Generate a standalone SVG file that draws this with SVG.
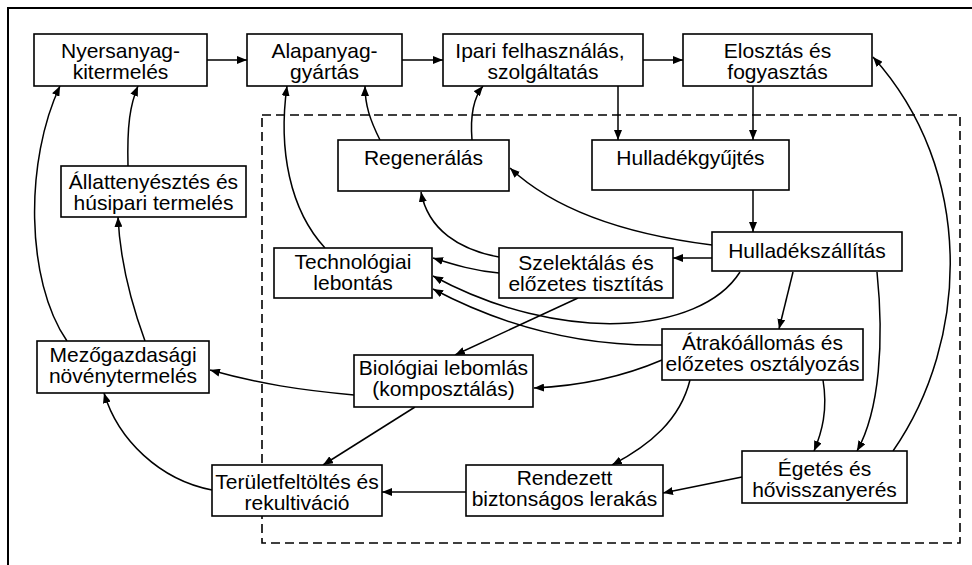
<svg xmlns="http://www.w3.org/2000/svg" width="972" height="565" viewBox="0 0 972 565">
<style>
.box{fill:#fff;stroke:#000;stroke-width:1.6}
text{font-family:"Liberation Sans",Arial,sans-serif;font-size:21px;fill:#000;text-anchor:middle}
.c{fill:none;stroke:#000;stroke-width:1.5}
.frame{fill:none;stroke:#000;stroke-width:2}
.dash{fill:none;stroke:#000;stroke-width:1.6;stroke-dasharray:9 5}
</style>
<defs>
<marker id="a" viewBox="0 0 10 8" refX="10" refY="4" markerWidth="10" markerHeight="8" markerUnits="userSpaceOnUse" orient="auto">
<path d="M0,0 L10,4 L0,8 Z" fill="#000"/>
</marker>
</defs>
<rect width="972" height="565" fill="#fff"/>
<path class="frame" d="M8,565 L8,8 L972,8"/>
<rect class="dash" x="262" y="115" width="698" height="428"/>

<g id="connectors">
<path class="c" marker-end="url(#a)" d="M207,60 L247,60"/>
<path class="c" marker-end="url(#a)" d="M402,60 L443,60"/>
<path class="c" marker-end="url(#a)" d="M643,60 L683,60"/>
<path class="c" marker-end="url(#a)" d="M618,86 L618,140"/>
<path class="c" marker-end="url(#a)" d="M753,86 L753,140"/>
<path class="c" marker-end="url(#a)" d="M753,190 L753,232"/>
<path class="c" marker-end="url(#a)" d="M712,258 L673,258"/>
<path class="c" marker-end="url(#a)" d="M712,245 C640,236 560,215 510,168"/>
<path class="c" marker-end="url(#a)" d="M499,257 C460,250 428,230 421,192"/>
<path class="c" marker-end="url(#a)" d="M499,273 C475,271 455,265 433,258"/>
<path class="c" marker-end="url(#a)" d="M740,272 C700,335 560,345 433,276"/>
<path class="c" marker-end="url(#a)" d="M662,345 C600,346 520,335 433,289"/>
<path class="c" marker-end="url(#a)" d="M578,298 L455,355"/>
<path class="c" marker-end="url(#a)" d="M662,360 C620,378 580,386 534,388"/>
<path class="c" marker-end="url(#a)" d="M793,272 L779,329"/>
<path class="c" marker-end="url(#a)" d="M877,272 C884,340 880,410 857,451"/>
<path class="c" marker-end="url(#a)" d="M823,380 C828,410 822,432 814,451"/>
<path class="c" marker-end="url(#a)" d="M893,451 C970,340 975,170 873,57"/>
<path class="c" marker-end="url(#a)" d="M690,380 C680,420 650,445 612,465"/>
<path class="c" marker-end="url(#a)" d="M742,477 L663,493"/>
<path class="c" marker-end="url(#a)" d="M466,492 L382,492"/>
<path class="c" marker-end="url(#a)" d="M415,407 L323,465"/>
<path class="c" marker-end="url(#a)" d="M354,395 C300,390 260,384 210,370"/>
<path class="c" marker-end="url(#a)" d="M212,490 C160,480 118,440 104,393"/>
<path class="c" marker-end="url(#a)" d="M67,341 C25,280 25,160 60,86"/>
<path class="c" marker-end="url(#a)" d="M145,341 C130,300 120,260 118,217"/>
<path class="c" marker-end="url(#a)" d="M128,166 C127,125 130,105 138,86"/>
<path class="c" marker-end="url(#a)" d="M325,248 C290,210 278,150 287,86"/>
<path class="c" marker-end="url(#a)" d="M380,140 C370,120 365,105 365,86"/>
<path class="c" marker-end="url(#a)" d="M472,140 C470,115 474,97 483,86"/>
</g>

<g id="n1"><rect class="box" x="34" y="34" width="173" height="52"/><text x="120.5" y="58">Nyersanyag-</text><text x="120.5" y="79">kitermelés</text></g>
<g id="n2"><rect class="box" x="247" y="34" width="155" height="52"/><text x="324.5" y="58">Alapanyag-</text><text x="324.5" y="79">gyártás</text></g>
<g id="n3"><rect class="box" x="443" y="34" width="200" height="52"/><text x="540" y="58">Ipari felhasználás,</text><text x="543" y="79">szolgáltatás</text></g>
<g id="n4"><rect class="box" x="683" y="34" width="189" height="52"/><text x="777.5" y="58">Elosztás és</text><text x="777.5" y="79">fogyasztás</text></g>
<g id="n5"><rect class="box" x="61" y="166" width="185" height="51"/><text x="153.5" y="189">Állattenyésztés és</text><text x="153.5" y="210">húsipari termelés</text></g>
<g id="n6"><rect class="box" x="338" y="140" width="171" height="51"/><text x="423.5" y="165">Regenerálás</text></g>
<g id="n7"><rect class="box" x="592" y="140" width="197" height="50"/><text x="690.5" y="165">Hulladékgyűjtés</text></g>
<g id="n8"><rect class="box" x="712" y="232" width="190" height="39"/><text x="807" y="258">Hulladékszállítás</text></g>
<g id="n9"><rect class="box" x="499" y="248" width="174" height="50"/><text x="586" y="270">Szelektálás és</text><text x="586" y="291">előzetes tisztítás</text></g>
<g id="n10"><rect class="box" x="274" y="248" width="158" height="50"/><text x="353" y="269">Technológiai</text><text x="353" y="290">lebontás</text></g>
<g id="n11"><rect class="box" x="662" y="329" width="201" height="51"/><text x="762.5" y="350">Átrakóállomás és</text><text x="762.5" y="371">előzetes osztályozás</text></g>
<g id="n12"><rect class="box" x="354" y="355" width="179" height="52"/><text x="443.5" y="375">Biológiai lebomlás</text><text x="443.5" y="396">(komposztálás)</text></g>
<g id="n13"><rect class="box" x="37" y="341" width="172" height="52"/><text x="123" y="362">Mezőgazdasági</text><text x="123" y="383">növénytermelés</text></g>
<g id="n14"><rect class="box" x="212" y="465" width="170" height="51"/><text x="297" y="489">Területfeltöltés és</text><text x="297" y="510">rekultiváció</text></g>
<g id="n15"><rect class="box" x="466" y="465" width="197" height="51"/><text x="564.5" y="485">Rendezett</text><text x="564.5" y="506">biztonságos lerakás</text></g>
<g id="n16"><rect class="box" x="742" y="451" width="165" height="52"/><text x="824.5" y="476">Égetés és</text><text x="824.5" y="497">hővisszanyerés</text></g>
</svg>
